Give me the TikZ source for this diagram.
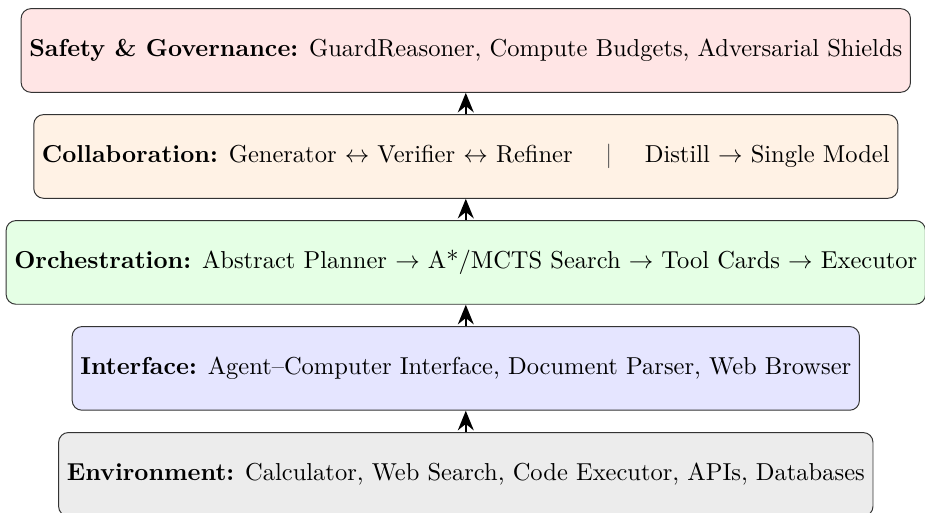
\documentclass[tikz,border=0pt]{standalone}
\usepackage{amsmath,amssymb}
\usepackage{xcolor}
\usetikzlibrary{arrows.meta}
\definecolor{mygray}{gray}{0.3}

\begin{document}
\begin{tikzpicture}[
  layer/.style={draw=black!80, rounded corners=4pt, minimum height=1.2cm},
  uparrow/.style={-{Stealth[length=8pt,width=6.5pt]}, thick}]

\useasboundingbox (-190.1pt,20.6pt) rectangle (187.4pt,-188.4pt);

\node[layer, fill=red!10] (safety) at (0,0) {\textbf{Safety \& Governance:} GuardReasoner, Compute Budgets, Adversarial Shields};
\node[layer, fill=orange!10] (collab) at (0,-1.52) {\textbf{Collaboration:} Generator $\leftrightarrow$ Verifier $\leftrightarrow$ Refiner \quad {\color{mygray}$|$} \quad Distill $\rightarrow$ Single Model};
\node[layer, fill=green!10] (orch) at (0,-3.04) {\textbf{Orchestration:} Abstract Planner $\rightarrow$ A*/MCTS Search $\rightarrow$ Tool Cards $\rightarrow$ Executor};
\node[layer, fill=blue!10] (iface) at (0,-4.56) {\textbf{Interface:} Agent--Computer Interface, Document Parser, Web Browser};
\node[layer, fill=gray!15] (env) at (0,-6.08) {\textbf{Environment:} Calculator, Web Search, Code Executor, APIs, Databases};

\draw[uparrow] (env) -- (iface);
\draw[uparrow] (iface) -- (orch);
\draw[uparrow] (orch) -- (collab);
\draw[uparrow] (collab) -- (safety);
\end{tikzpicture}
\end{document}
